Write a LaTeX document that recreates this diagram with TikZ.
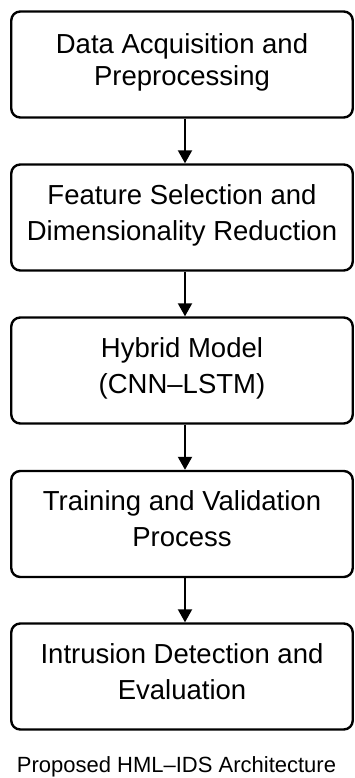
\documentclass[tikz,border=0pt]{standalone}
\usepackage{fontspec}
\setmainfont{Liberation Sans}
\usetikzlibrary{arrows.meta}
\begin{document}
\begin{tikzpicture}[x=1pt,y=-1pt,
  stage/.style={draw=black, line width=2.4pt, rounded corners=9pt, fill=white,
    minimum width=341.5pt, minimum height=106pt, align=center, inner sep=0pt,
    font=\fontsize{27.5}{36}\selectfont,
    execute at begin node=\strut, execute at end node=\strut},
  flow/.style={line width=2pt, -{Triangle[length=13pt,width=14pt]}},
  caption/.style={anchor=base, font=\fontsize{22}{27}\selectfont}]
\useasboundingbox[fill=white] (0,0) rectangle (354,778);

% processing stages, top to bottom
\node[stage] (acq)   at (182, 64.5) {Data Acquisition and\\[-4pt]Preprocessing};
\node[stage] (feat)  at (182,217.5) {Feature Selection and\\Dimensionality Reduction};
\node[stage] (model) at (182,370.5) {Hybrid Model\\(CNN–LSTM)};
\node[stage] (train) at (182,524)   {Training and Validation\\Process};
\node[stage] (eval)  at (182,676.5) {Intrusion Detection and\\Evaluation};

% arrows between consecutive stages
\foreach \a/\b in {acq/feat, feat/model, model/train, train/eval}
  \draw[flow] ([xshift=3pt]\a.south) -- ([xshift=3pt]\b.north);

\node[caption] (title) at (176.5,772) {Proposed HML–IDS Architecture};
\end{tikzpicture}
\end{document}
